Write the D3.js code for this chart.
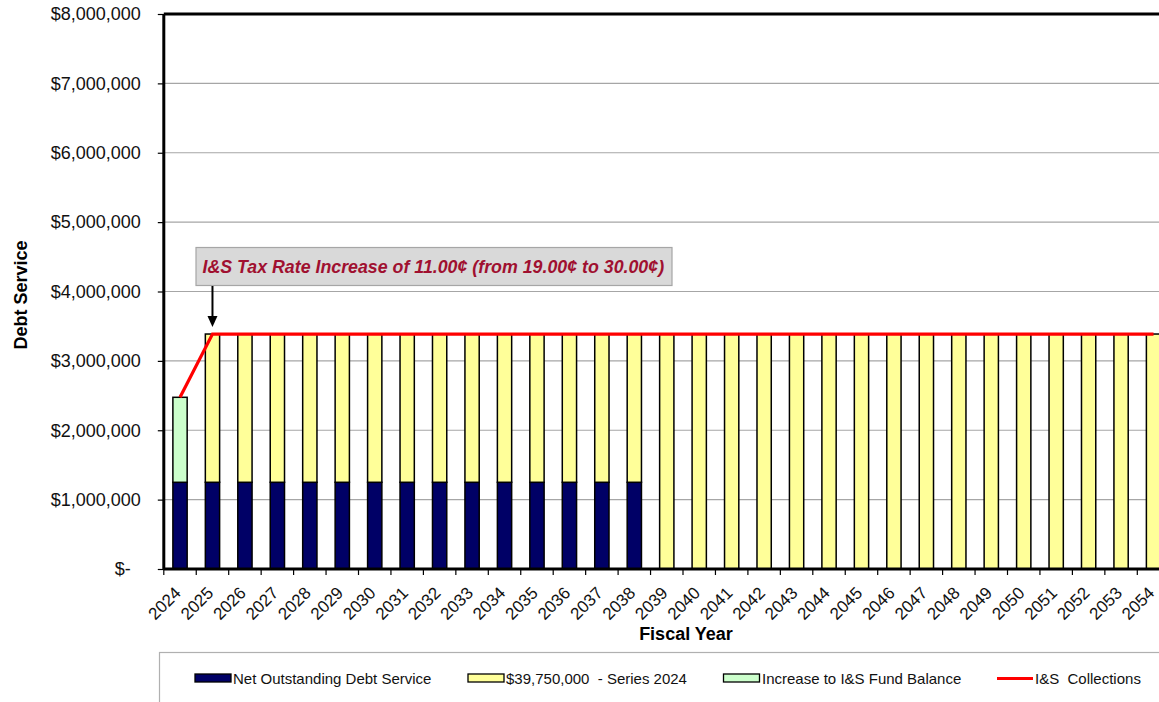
<!DOCTYPE html>
<html>
<head>
<meta charset="utf-8">
<script src="https://cdn.jsdelivr.net/npm/d3@7"></script>
<style>
  html, body { margin: 0; padding: 0; background: #fff; }
  svg { display: block; font-family: "Liberation Sans", Arial, sans-serif; }
  text { white-space: pre; }
</style>
</head>
<body>
<svg id="chart" width="1159" height="702"></svg>
<script>
// ---- data ----
const years = d3.range(2024, 2055).map(String);
const netOutstanding = [1250000,1250000,1250000,1250000,1250000,1250000,1250000,1250000,1250000,1250000,1250000,1250000,1250000,1250000,1250000,
  0,0,0,0,0,0,0,0,0,0,0,0,0,0,0,0];
const series2024 = [0,2137000,2137000,2137000,2137000,2137000,2137000,2137000,2137000,2137000,2137000,2137000,2137000,2137000,2137000,
  3387000,3387000,3387000,3387000,3387000,3387000,3387000,3387000,3387000,3387000,3387000,3387000,3387000,3387000,3387000,3387000];
const fundIncrease = [1225000,0,0,0,0,0,0,0,0,0,0,0,0,0,0,0,0,0,0,0,0,0,0,0,0,0,0,0,0,0,0];
const collections = [2475000,3387000,3387000,3387000,3387000,3387000,3387000,3387000,3387000,3387000,3387000,3387000,3387000,3387000,3387000,
  3387000,3387000,3387000,3387000,3387000,3387000,3387000,3387000,3387000,3387000,3387000,3387000,3387000,3387000,3387000,3387000];
const yTicks = [0,1000000,2000000,3000000,4000000,5000000,6000000,7000000,8000000];
const seriesNames = ["Net Outstanding Debt Service", "$39,750,000  - Series 2024", "Increase to I&S Fund Balance", "I&S  Collections"];
const annotationText = "I&S Tax Rate Increase of 11.00\u00a2 (from 19.00\u00a2 to 30.00\u00a2)";
const xTitle = "Fiscal Year";
const yTitle = "Debt Service";

// ---- layout ----
const svg = d3.select("#chart");
const x0 = 163.8, step = 32.45;
const x1 = x0 + step * years.length;
const yTop = 14, yBot = 569;

const x = d3.scaleBand().domain(years).range([x0, x1]).paddingInner(0.56).paddingOuter(0.28);
const y = d3.scaleLinear().domain([0, 8000000]).range([yBot, yTop]);

const colors = { net: "#000066", ser: "#ffff99", inc: "#ccffcc", col: "#ff0000" };

// gridlines
svg.append("g").selectAll("line").data(yTicks.filter(d => d > 0 && d < 8000000)).join("line")
  .attr("x1", x0).attr("x2", x1).attr("y1", d => y(d)).attr("y2", d => y(d))
  .attr("stroke", "#a6a6a6").attr("stroke-width", 1.2);

// y axis
const yAxis = d3.axisLeft(y).tickValues(yTicks).tickSize(6).tickPadding(17)
  .tickFormat(d => d === 0 ? "$-" : "$" + d3.format(",")(d));
const gy = svg.append("g").attr("transform", `translate(${x0},0)`).call(yAxis);
gy.select(".domain").remove();
gy.selectAll(".tick line").attr("stroke", "#000").attr("stroke-width", 1.2);
gy.selectAll(".tick text").attr("font-size", "18px").attr("fill", "#111")
  .attr("dx", d => d === 0 ? -10 : 0);

// stacked bars
const stackData = years.map((yr, i) => ({ year: yr, net: netOutstanding[i], ser: series2024[i], inc: fundIncrease[i] }));
const stack = d3.stack().keys(["net", "ser", "inc"]);
const layers = stack(stackData);
svg.append("g").selectAll("g").data(layers).join("g")
  .attr("fill", d => colors[d.key])
  .selectAll("rect").data(d => d.filter(p => p[1] - p[0] > 0)).join("rect")
  .attr("x", d => x(d.data.year))
  .attr("width", x.bandwidth())
  .attr("y", d => y(d[1]))
  .attr("height", d => y(d[0]) - y(d[1]))
  .attr("stroke", "#000").attr("stroke-width", 1.5);

// collections line
const line = d3.line().x((d, i) => x(years[i]) + x.bandwidth() / 2).y(d => y(d));
svg.append("path").datum(collections).attr("d", line)
  .attr("fill", "none").attr("stroke", colors.col).attr("stroke-width", 3.2);

// x axis line & ticks
svg.append("line").attr("x1", x0).attr("x2", x1).attr("y1", yBot).attr("y2", yBot)
  .attr("stroke", "#000").attr("stroke-width", 3);
svg.append("g").selectAll("line").data(d3.range(years.length + 1)).join("line")
  .attr("x1", i => x0 + i * step).attr("x2", i => x0 + i * step)
  .attr("y1", yBot).attr("y2", yBot + 6)
  .attr("stroke", "#000").attr("stroke-width", 1.2);
svg.append("g").selectAll("text").data(years).join("text")
  .attr("transform", d => `translate(${x(d) + x.bandwidth() / 2 + 2},${yBot + 25}) rotate(-45)`)
  .attr("text-anchor", "end").attr("font-size", "17px").attr("fill", "#111")
  .text(d => d);

// plot border: left, top, right
svg.append("line").attr("x1", x0).attr("x2", x0).attr("y1", yTop).attr("y2", yBot)
  .attr("stroke", "#000").attr("stroke-width", 3);
svg.append("line").attr("x1", x0).attr("x2", x1).attr("y1", yTop).attr("y2", yTop)
  .attr("stroke", "#000").attr("stroke-width", 3);
svg.append("line").attr("x1", x1).attr("x2", x1).attr("y1", yTop).attr("y2", yBot)
  .attr("stroke", "#000").attr("stroke-width", 3);

// axis titles
svg.append("text").attr("x", 686).attr("y", 640).attr("text-anchor", "middle")
  .attr("font-size", "18px").attr("font-weight", "bold").text(xTitle);
svg.append("text").attr("transform", `translate(27,295) rotate(-90)`).attr("text-anchor", "middle")
  .attr("font-size", "18px").attr("font-weight", "bold").text(yTitle);

// annotation
const ann = svg.append("g");
ann.append("rect").attr("x", 196).attr("y", 247.5).attr("width", 476).attr("height", 38)
  .attr("fill", "#d9d9d9").attr("stroke", "#a6a6a6").attr("stroke-width", 1.2);
ann.append("text").attr("x", 202.5).attr("y", 273).attr("font-size", "17.8px")
  .attr("font-weight", "bold").attr("font-style", "italic").attr("fill", "#a01030")
  .text(annotationText);
const ax = x("2025") + x.bandwidth() / 2;
ann.append("line").attr("x1", ax).attr("x2", ax).attr("y1", 286).attr("y2", 318)
  .attr("stroke", "#000").attr("stroke-width", 2);
ann.append("path").attr("d", `M${ax - 5},316 L${ax + 5},316 L${ax},327 Z`).attr("fill", "#000");

// legend
const lg = svg.append("g");
lg.append("rect").attr("x", 159.5).attr("y", 652.5).attr("width", 1100).attr("height", 100)
  .attr("fill", "#fff").attr("stroke", "#b0b0b0").attr("stroke-width", 1.2);
const legendItems = [
  { name: seriesNames[0], type: "rect", color: colors.net, sx: 195, tx: 233 },
  { name: seriesNames[1], type: "rect", color: colors.ser, sx: 468, tx: 506 },
  { name: seriesNames[2], type: "rect", color: colors.inc, sx: 723.5, tx: 762 },
  { name: seriesNames[3], type: "line", color: colors.col, sx: 997, tx: 1035 }
];
legendItems.forEach(it => {
  if (it.type === "rect") {
    lg.append("rect").attr("x", it.sx).attr("y", 674).attr("width", 36).attr("height", 8)
      .attr("fill", it.color).attr("stroke", "#000").attr("stroke-width", 1.3);
  } else {
    lg.append("line").attr("x1", it.sx).attr("x2", it.sx + 36).attr("y1", 678.5).attr("y2", 678.5)
      .attr("stroke", it.color).attr("stroke-width", 3.2);
  }
  lg.append("text").attr("x", it.tx).attr("y", 683.5).attr("font-size", "15px").attr("fill", "#111")
    .text(it.name);
});
</script>
</body>
</html>
